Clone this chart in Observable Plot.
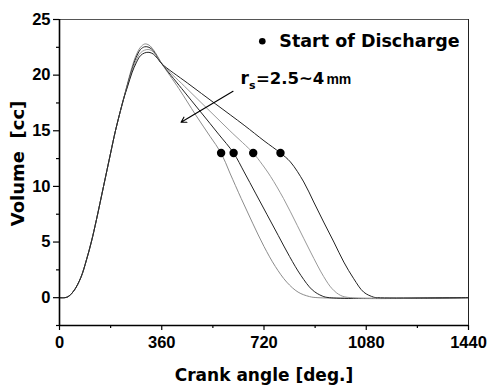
<!DOCTYPE html>
<html><head><meta charset="utf-8">
<script src="https://cdn.jsdelivr.net/npm/d3@7"></script>
<script src="https://cdn.jsdelivr.net/npm/@observablehq/plot@0.6"></script>
<style>body{margin:0;background:#fff}</style>
</head><body><div id="chart"></div>
<script>
// shared rising part (crank angle [deg], volume [cc])
const riseAngle = [0, 27, 50, 75, 95, 112, 130, 155, 180, 197, 225];
const riseVol   = [0, 0.05, 0.6, 1.8, 3.4, 5.0, 7.0, 10.0, 13.0, 15.0, 17.8];

// per-curve peak + discharge parts
const c1Angle = [240, 255, 270, 285, 300, 315, 330, 345, 361, 420, 480, 530, 569, 600, 640, 680, 720, 760, 800, 840, 880, 910, 1440];
const c1Vol   = [19.3, 20.7, 21.8, 22.5, 22.8, 22.7, 22.3, 21.7, 21.0, 18.8, 16.4, 14.5, 13.0, 11.2, 8.9, 6.7, 4.6, 2.8, 1.4, 0.5, 0.1, 0, 0];
const c2Angle = [240, 255, 270, 285, 300, 315, 330, 345, 361, 430, 500, 560, 613, 650, 690, 730, 770, 810, 850, 890, 925, 950, 1440];
const c2Vol   = [19.2, 20.5, 21.6, 22.3, 22.55, 22.5, 22.2, 21.6, 21.0, 18.8, 16.6, 14.7, 13.0, 11.3, 9.4, 7.5, 5.6, 3.7, 2.0, 0.7, 0.15, 0, 0];
const c3Angle = [240, 255, 270, 285, 300, 315, 330, 345, 361, 440, 520, 600, 682, 713, 743, 789, 837, 884, 930, 960, 990, 1025, 1440];
const c3Vol   = [19.1, 20.35, 21.35, 22.0, 22.25, 22.3, 22.1, 21.6, 21.0, 19.0, 17.0, 15.0, 13.0, 12.0, 10.9, 8.9, 6.5, 4.1, 1.9, 0.8, 0.2, 0, 0];
const c4Angle = [240, 255, 270, 285, 300, 315, 330, 345, 361, 450, 550, 650, 720, 778, 813, 860, 895, 930, 966, 1001, 1036, 1071, 1106, 1120, 1440];
const c4Vol   = [19.0, 20.2, 21.1, 21.75, 22.0, 22.05, 21.9, 21.5, 21.0, 19.3, 17.4, 15.5, 14.1, 13.0, 12.2, 10.4, 8.6, 6.8, 5.0, 3.2, 1.7, 0.5, 0.05, 0, 0];

// start of discharge points
const dischargeAngle = [569, 613, 682, 778];
const dischargeVol   = [13, 13, 13, 13];

// tick values
const xMajor = [0, 360, 720, 1080, 1440];
const xMinor = [180, 540, 900, 1260];
const yMajor = [0, 5, 10, 15, 20, 25];
const yMinor = [-2.5, 2.5, 7.5, 12.5, 17.5, 22.5];

// annotations
const legendPos = {x: 714, y: 23.05, tx: 774};
const arrowData = [{x1: 611, y1: 18.55, x2: 428, y2: 15.76}];
const annotPos = {x: 637, y: 19.2};

const curves = [
  {angle: c1Angle, vol: c1Vol, color: "#8c8c8c"},
  {angle: c2Angle, vol: c2Vol, color: "#222"},
  {angle: c3Angle, vol: c3Vol, color: "#999"},
  {angle: c4Angle, vol: c4Vol, color: "#222"}
];
const toRows = c => riseAngle.concat(c.angle).map((a, i) => ({angle: a, vol: riseVol.concat(c.vol)[i]}));
const dots = dischargeAngle.map((a, i) => ({angle: a, vol: dischargeVol[i]}));

const bold = "Liberation Sans, Arial, sans-serif";
const wide = "DejaVu Sans, sans-serif";

const chart = Plot.plot({
  width: 488, height: 386,
  marginLeft: 59, marginRight: 20, marginTop: 19, marginBottom: 61,
  style: {fontFamily: bold, fontWeight: "bold", fontSize: "16.5px", background: "#fff", color: "#000"},
  x: {domain: [0, 1440]},
  y: {domain: [-2.5, 25]},
  marks: [
    ...curves.map(c => Plot.line(toRows(c), {x: "angle", y: "vol", stroke: c.color, strokeWidth: 1, curve: "catmull-rom"})),
    Plot.dot(dots, {x: "angle", y: "vol", r: 4.2, fill: "#000", stroke: "none"}),
    // frame
    Plot.ruleY([25], {stroke: "#555", strokeWidth: 1}),
    Plot.ruleX([1440], {stroke: "#222", strokeWidth: 1}),
    Plot.ruleY([-2.5], {stroke: "#000", strokeWidth: 1.6}),
    Plot.ruleX([0], {stroke: "#000", strokeWidth: 1.6}),
    // axes
    Plot.axisX({ticks: xMajor, tickFormat: d => String(d), tickSize: 5, tickPadding: 6, label: null, stroke: "#000", strokeWidth: 1.2}),
    Plot.axisX({ticks: xMinor, tickSize: 3, text: null, label: null, strokeWidth: 1.2}),
    Plot.axisY({ticks: yMajor, tickFormat: d => String(d), tickSize: 6, tickPadding: 3, label: null, strokeWidth: 1.2}),
    Plot.axisY({ticks: yMinor, tickSize: 3, text: null, label: null, strokeWidth: 1.2}),
    // axis titles
    Plot.text(["Crank angle [deg.]"], {frameAnchor: "bottom", dy: 55, lineAnchor: "bottom", fontFamily: wide, fontSize: 17, fontWeight: "bold"}),
    Plot.text(["Volume  [cc]"], {frameAnchor: "left", dx: -41, dy: -9, rotate: -90, textAnchor: "middle", lineAnchor: "middle", fontFamily: wide, fontSize: 18, fontWeight: "bold"}),
    // legend
    Plot.dot([legendPos], {x: "x", y: "y", r: 3.3, fill: "#000", stroke: "none"}),
    Plot.text([legendPos], {x: "tx", y: "y", text: () => "Start of Discharge", textAnchor: "start", lineAnchor: "middle", fontFamily: wide, fontSize: 17.5, fontWeight: "bold"}),
    // annotation
    Plot.arrow(arrowData, {x1: "x1", y1: "y1", x2: "x2", y2: "y2", stroke: "#000", strokeWidth: 1.1, headLength: 8, bend: 0}),
    Plot.text([annotPos], {x: "x", y: "y", text: () => "r", textAnchor: "start", lineAnchor: "bottom", fontFamily: wide, fontSize: 17, fontWeight: "bold"}),
    Plot.text([annotPos], {x: "x", y: "y", text: () => "s", dx: 8.5, dy: 5, textAnchor: "start", lineAnchor: "bottom", fontFamily: wide, fontSize: 11, fontWeight: "bold"}),
    Plot.text([annotPos], {x: "x", y: "y", text: () => "=2.5~4", dx: 15.5, textAnchor: "start", lineAnchor: "bottom", fontFamily: wide, fontSize: 16.5, fontWeight: "bold"}),
    Plot.text([annotPos], {x: "x", y: "y", text: () => "mm", dx: 86, textAnchor: "start", lineAnchor: "bottom", fontFamily: bold, fontSize: 14, fontWeight: "bold"})
  ]
});
document.getElementById("chart").appendChild(chart);
</script>
</body></html>
